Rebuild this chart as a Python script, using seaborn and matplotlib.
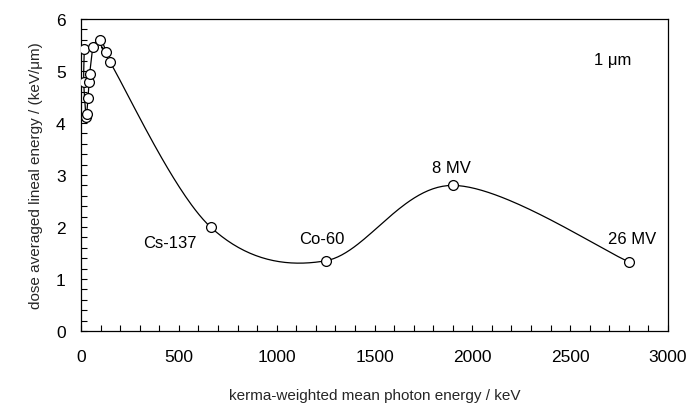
import numpy as np
import pandas as pd
import matplotlib
matplotlib.use("Agg")
import matplotlib.pyplot as plt
import seaborn as sns
from matplotlib.ticker import MultipleLocator

# data (in drawing order along the curve)
energy_kev = [17, 14, 26, 29, 36, 41, 44, 63, 99, 129, 147, 662, 1250, 1900, 2800]
yd_kev_um = [5.42, 4.79, 4.11, 4.17, 4.49, 4.78, 4.94, 5.47, 5.60, 5.37, 5.18, 2.00, 1.35, 2.80, 1.33]
label_text = ["Cs-137", "Co-60", "8 MV", "26 MV"]
label_x = [455, 1232, 1895, 2815]
label_y = [1.71, 1.77, 3.15, 1.77]

sns.set_theme(style="ticks")
plt.rcParams["font.family"] = ["Liberation Sans", "DejaVu Sans"]

fig = plt.figure(figsize=(6.91, 4.06), dpi=100)
ax = fig.add_axes([81/691, 1-332/406, 587/691, 312/406])

# Catmull-Rom smoothing in screen-normalized space (Excel-like smoothed line)
xs = np.array(energy_kev, float) / 3000 * 587
ys = np.array(yd_kev_um, float) / 6 * 312
P = np.column_stack([xs, ys])
Pp = np.vstack([P[0], P, P[-1]])
curve = []
for i in range(1, len(Pp) - 2):
    p0, p1, p2, p3 = Pp[i-1], Pp[i], Pp[i+1], Pp[i+2]
    c1 = p1 + (p2 - p0) / 6
    c2 = p2 - (p3 - p1) / 6
    t = np.linspace(0, 1, 60)[:, None]
    seg = (1-t)**3*p1 + 3*(1-t)**2*t*c1 + 3*(1-t)*t**2*c2 + t**3*p2
    curve.append(seg if i == 1 else seg[1:])
curve = np.vstack(curve)
cdf = pd.DataFrame({"x": curve[:, 0] / 587 * 3000, "y": curve[:, 1] / 312 * 6, "o": np.arange(len(curve))})
sns.lineplot(data=cdf, x="x", y="y", sort=False, color="black", lw=0.9, ax=ax, estimator=None)

df = pd.DataFrame({"x": energy_kev, "y": yd_kev_um})
sns.scatterplot(data=df, x="x", y="y", ax=ax, s=50, color="white", edgecolor="black", linewidth=0.9, zorder=5)

for t, x, y in zip(label_text, label_x, label_y):
    ax.text(x, y, t, ha="center", va="center", fontsize=12, color="black")
ax.text(2718, 5.23, "1 μm", ha="center", va="center", fontsize=12, color="black")

ax.set_xlim(0, 3000)
ax.set_ylim(0, 6)
ax.xaxis.set_major_locator(MultipleLocator(500))
ax.xaxis.set_minor_locator(MultipleLocator(100))
ax.yaxis.set_major_locator(MultipleLocator(1))
ax.yaxis.set_minor_locator(MultipleLocator(0.2))
ax.tick_params(axis="both", which="both", direction="in", length=4, width=0.8, colors="black", labelsize=12.5)
ax.tick_params(axis="x", which="major", pad=13)
ax.tick_params(axis="y", which="major", pad=11)
for s in ax.spines.values():
    s.set_visible(True)
    s.set_color("black")
    s.set_linewidth(0.9)

ax.set_xlabel("kerma-weighted mean photon energy / keV", fontsize=11, labelpad=17)
ax.set_ylabel("dose averaged lineal energy / (keV/μm)", fontsize=11, labelpad=9)

fig.savefig("out.png", dpi=100)
